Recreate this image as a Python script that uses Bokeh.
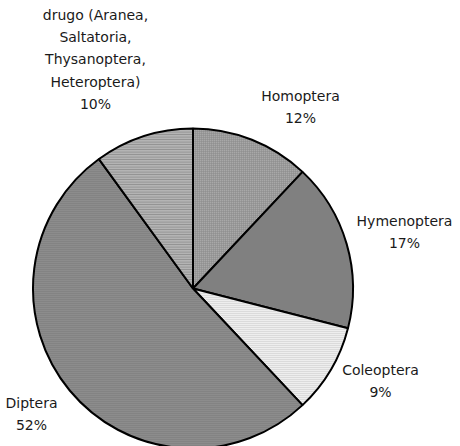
import numpy as np
from bokeh.plotting import figure
from bokeh.models import Range1d, ColumnDataSource
from bokeh.core.properties import value
from bokeh.embed import file_html
from bokeh.resources import INLINE

# --- data ---
categories = ["Homoptera", "Hymenoptera", "Coleoptera", "Diptera",
              "drugo (Aranea,\nSaltatoria,\nThysanoptera,\nHeteroptera)"]
percent = [12, 17, 9, 52, 10]

# --- styles ---
fills = ["#a8a8a8", "#808080", "#eeeeee", "#8c8c8c", "#b4b4b4"]
hatches = ["+", " ", "-", "-", "-"]
hatch_colors = ["#8a8a8a", "#808080", "#c8c8c8", "#7a7a7a", "#8c8c8c"]
hatch_scales = [2.0, 2.0, 2.0, 2.0, 2.5]

W, H = 460, 446
p = figure(width=W, height=H, output_backend="svg", toolbar_location=None,
           x_range=Range1d(0, W), y_range=Range1d(0, H), min_border=0)
p.axis.visible = False
p.grid.visible = False
p.outline_line_color = None
p.background_fill_color = "white"
p.border_fill_color = "white"

cx, cy, r = 192.5, H - 288, 160
vals = np.array(percent, dtype=float)
frac = vals / vals.sum()
cum = np.concatenate([[0], np.cumsum(frac)])
starts = np.pi / 2 - 2 * np.pi * cum[:-1]
ends = np.pi / 2 - 2 * np.pi * cum[1:]

src = ColumnDataSource(dict(start=starts, end=ends, fill=fills, hatch=hatches,
                            hc=hatch_colors, hs=hatch_scales))
p.wedge(x=cx, y=cy, radius=r, start_angle="start", end_angle="end", direction="clock",
        fill_color="fill", hatch_pattern="hatch", hatch_color="hc", hatch_scale="hs",
        hatch_weight=1, line_color="black", line_width=2, source=src)

# label positions (screen x, y of block top)
lab_x = [300, 404, 380, 31, 95]
lab_y_top = [87, 212, 361, 394, 6]
texts = [f"{c}\n{v}%" for c, v in zip(categories, percent)]
p.text(x=lab_x, y=[H - y for y in lab_y_top], text=texts,
       text_font=value("DejaVu Sans"), text_font_size="14px", text_color="#1a1a1a",
       text_align="center", text_baseline="top", text_line_height=1.4)

open("out.html", "w").write(file_html(p, INLINE))
